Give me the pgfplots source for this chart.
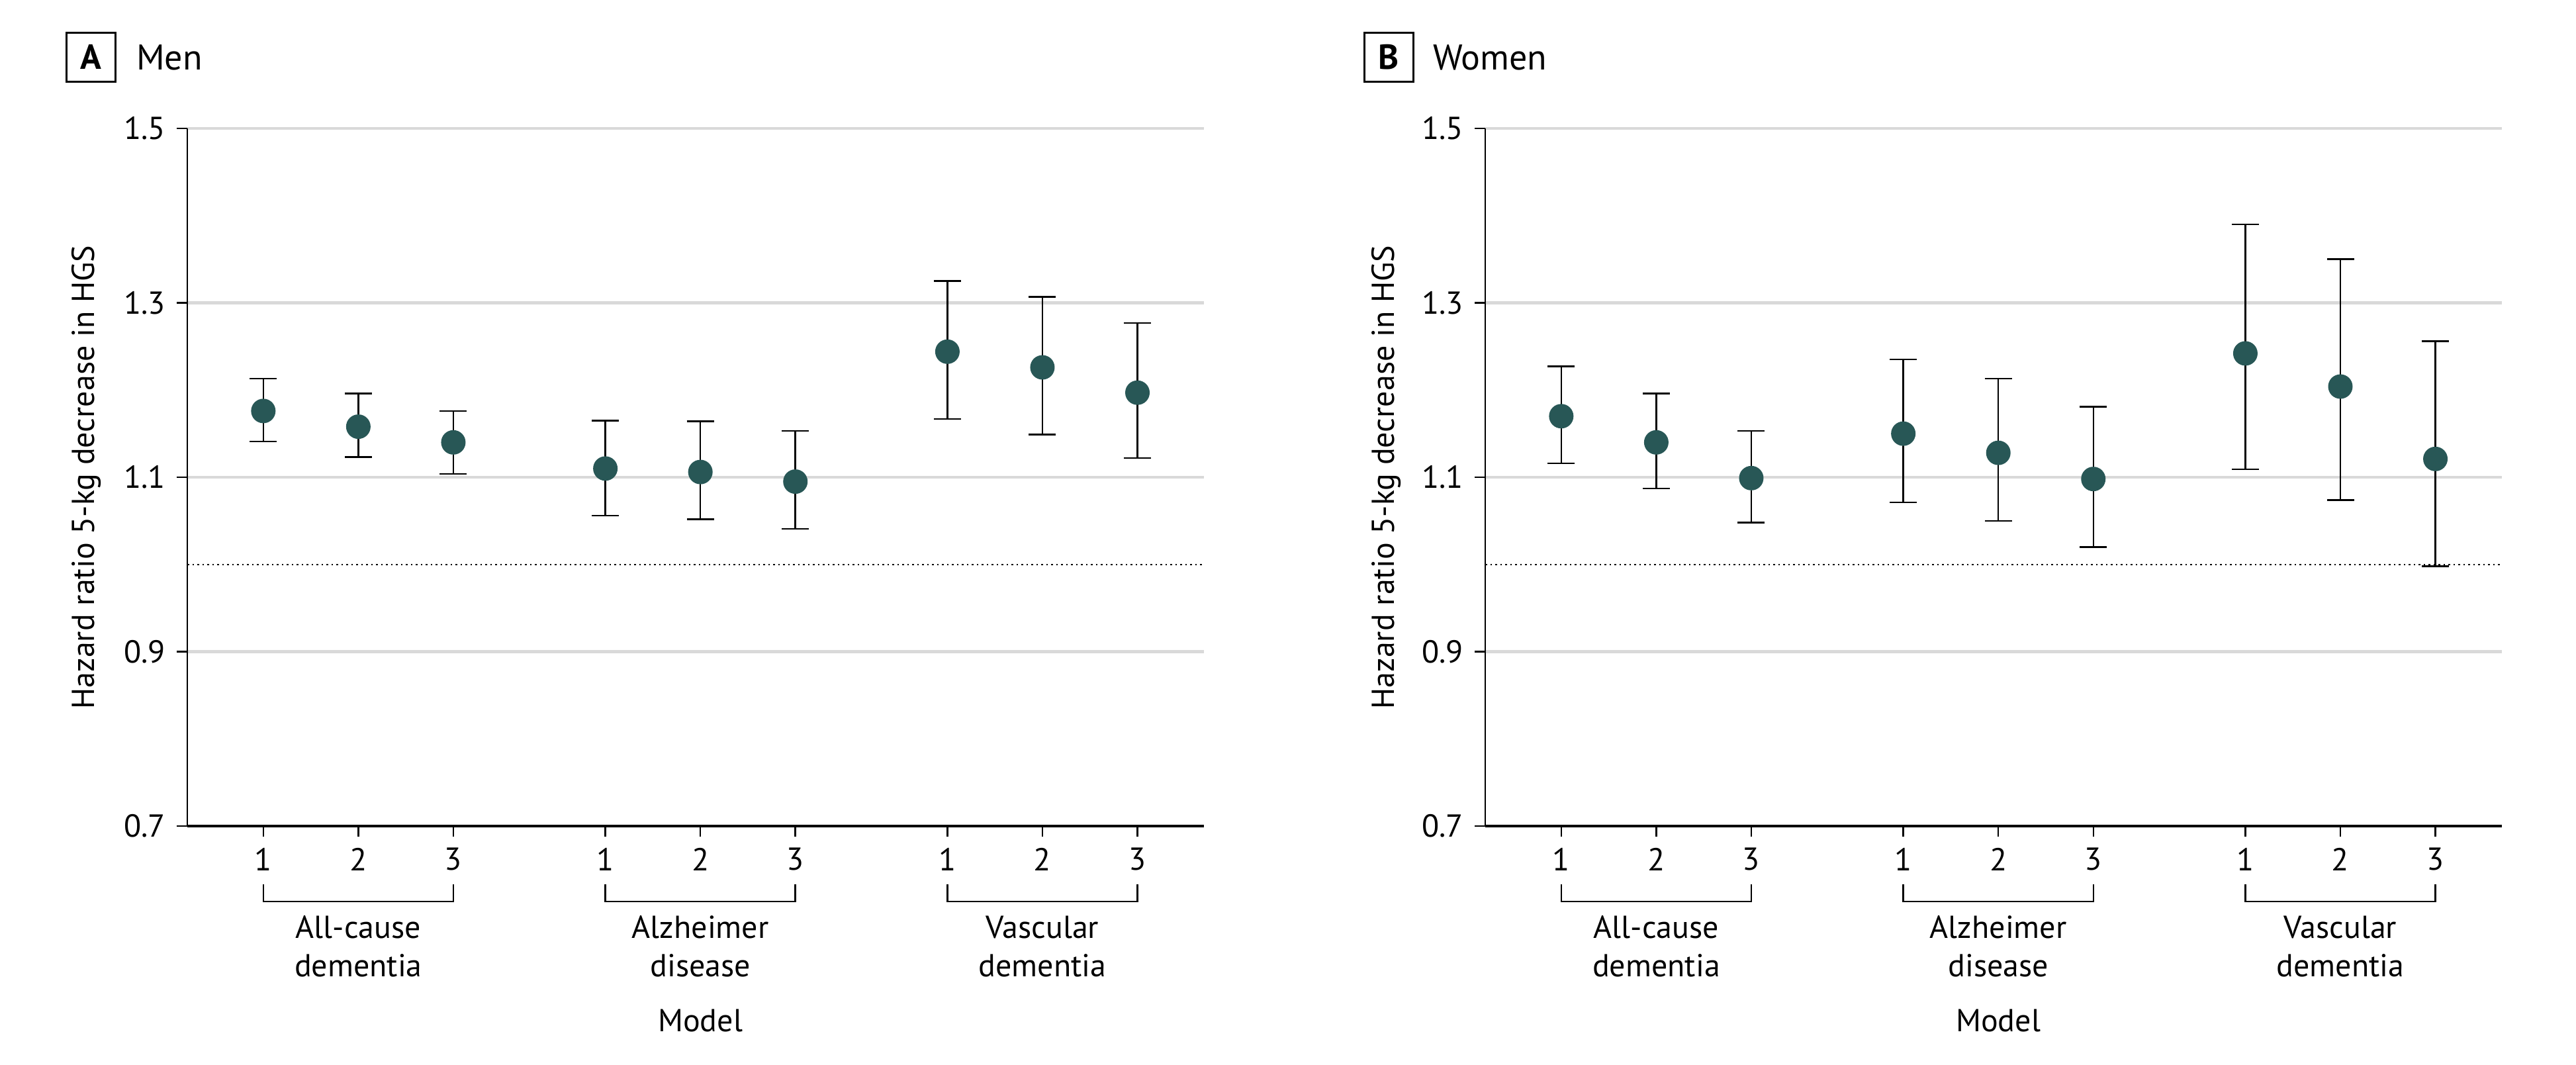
\documentclass[border=0pt]{standalone}
\usepackage{fontspec}
\setmainfont{PT Sans}
\usepackage{pgfplots}
\pgfplotsset{compat=1.18}
\usepackage{pgfplotstable}

\definecolor{dot}{HTML}{285756}
\definecolor{gridgray}{HTML}{D9D9D9}

% model, HR, lower CI, upper CI
\pgfplotstableread{
x y lo hi
1 1.176 1.141 1.213
2 1.158 1.123 1.196
3 1.140 1.104 1.176
4.6 1.110 1.056 1.165
5.6 1.106 1.052 1.164
6.6 1.095 1.041 1.153
8.2 1.244 1.167 1.325
9.2 1.226 1.149 1.307
10.2 1.197 1.122 1.277
}\men

\pgfplotstableread{
x y lo hi
1 1.170 1.116 1.227
2 1.140 1.087 1.196
3 1.099 1.048 1.153
4.6 1.150 1.071 1.235
5.6 1.128 1.050 1.213
6.6 1.098 1.020 1.181
8.2 1.242 1.109 1.390
9.2 1.204 1.074 1.350
10.2 1.121 0.998 1.256
}\women

\pgfplotsset{
  panel/.style={
    scale only axis, width=307.2pt, height=210.8pt,
    xmin=0.2, xmax=10.9, ymin=0.7, ymax=1.5,
    axis x line*=bottom, axis y line*=left,
    x axis line style={line width=0.8pt, -},
    y axis line style={line width=0.5pt, -},
    tick align=outside, major tick length=3.2pt,
    tick style={black, line width=0.5pt},
    ytick={0.7,0.9,1.1,1.3,1.5},
    yticklabels={0.7,0.9,1.1,1.3,1.5},
    xtick={1,2,3,4.6,5.6,6.6,8.2,9.2,10.2},
    xticklabels={1,2,3,1,2,3,1,2,3},
    ymajorgrids, grid style={gridgray, line width=0.9pt},
    clip=false,
  },
  ci/.style={only marks, mark=*, mark size=3.5pt, color=dot,
    mark options={fill=dot, draw=dot},
    error bars/.cd, y dir=both, y explicit,
    error bar style={black, line width=0.5pt},
    error mark options={rotate=90, black, mark size=4.1pt, line width=0.5pt}},
}

% bracket + two-line group label under ticks a..b
\newcommand{\grp}[4]{%
  \draw[line width=0.5pt] ([yshift=-17.6pt]axis cs:#1,0.7) |- ([yshift=-22.8pt]axis cs:#2,0.7) -- ([yshift=-17.6pt]axis cs:#2,0.7);
  \node[anchor=base, inner sep=0pt] at ([yshift=-33.8pt]axis cs:{(#1+#2)/2},0.7) {#3};
  \node[anchor=base, inner sep=0pt] at ([yshift=-45.4pt]axis cs:{(#1+#2)/2},0.7) {#4};
}

\newcommand{\panelcontent}[1]{%
  \addplot[black, line width=0.5pt, dash pattern=on 0.5pt off 1pt] coordinates {(0.2,1) (10.9,1)};
  \addplot[ci] table[x=x, y=y, y error plus expr=\thisrow{hi}-\thisrow{y}, y error minus expr=\thisrow{y}-\thisrow{lo}] {#1};
  \grp{1}{3}{All-cause}{dementia}
  \grp{4.6}{6.6}{Alzheimer}{disease}
  \grp{8.2}{10.2}{Vascular}{dementia}
  \node[anchor=base, inner sep=0pt] at ([yshift=-62pt]axis cs:5.6,0.7) {Model};
}

\begin{document}
\fontsize{9.6}{11.5}\selectfont
\begin{tikzpicture}
\path[use as bounding box] (0,0) rectangle (778.4pt,321.6pt);

\begin{axis}[panel, at={(56.6pt,72pt)}, anchor=south west]
\panelcontent{\men}
\end{axis}

\begin{axis}[panel, at={(448.8pt,72pt)}, anchor=south west]
\panelcontent{\women}
\end{axis}

\node[draw, line width=0.6pt, minimum size=14.8pt, inner sep=0pt, font=\bfseries\fontsize{10.5}{12}\selectfont] at (27.4pt,304.3pt) {A};
\node[anchor=base west, inner sep=0pt, font=\fontsize{10.8}{13}\selectfont] at (41pt,300.4pt) {Men};
\node[draw, line width=0.6pt, minimum size=14.8pt, inner sep=0pt, font=\bfseries\fontsize{10.5}{12}\selectfont] at (419.6pt,304.3pt) {B};
\node[anchor=base west, inner sep=0pt, font=\fontsize{10.8}{13}\selectfont] at (432.8pt,300.4pt) {Women};

\node[rotate=90] at (26pt,177.4pt) {Hazard ratio 5-kg decrease in HGS};
\node[rotate=90] at (418.8pt,177.4pt) {Hazard ratio 5-kg decrease in HGS};
\end{tikzpicture}
\end{document}
